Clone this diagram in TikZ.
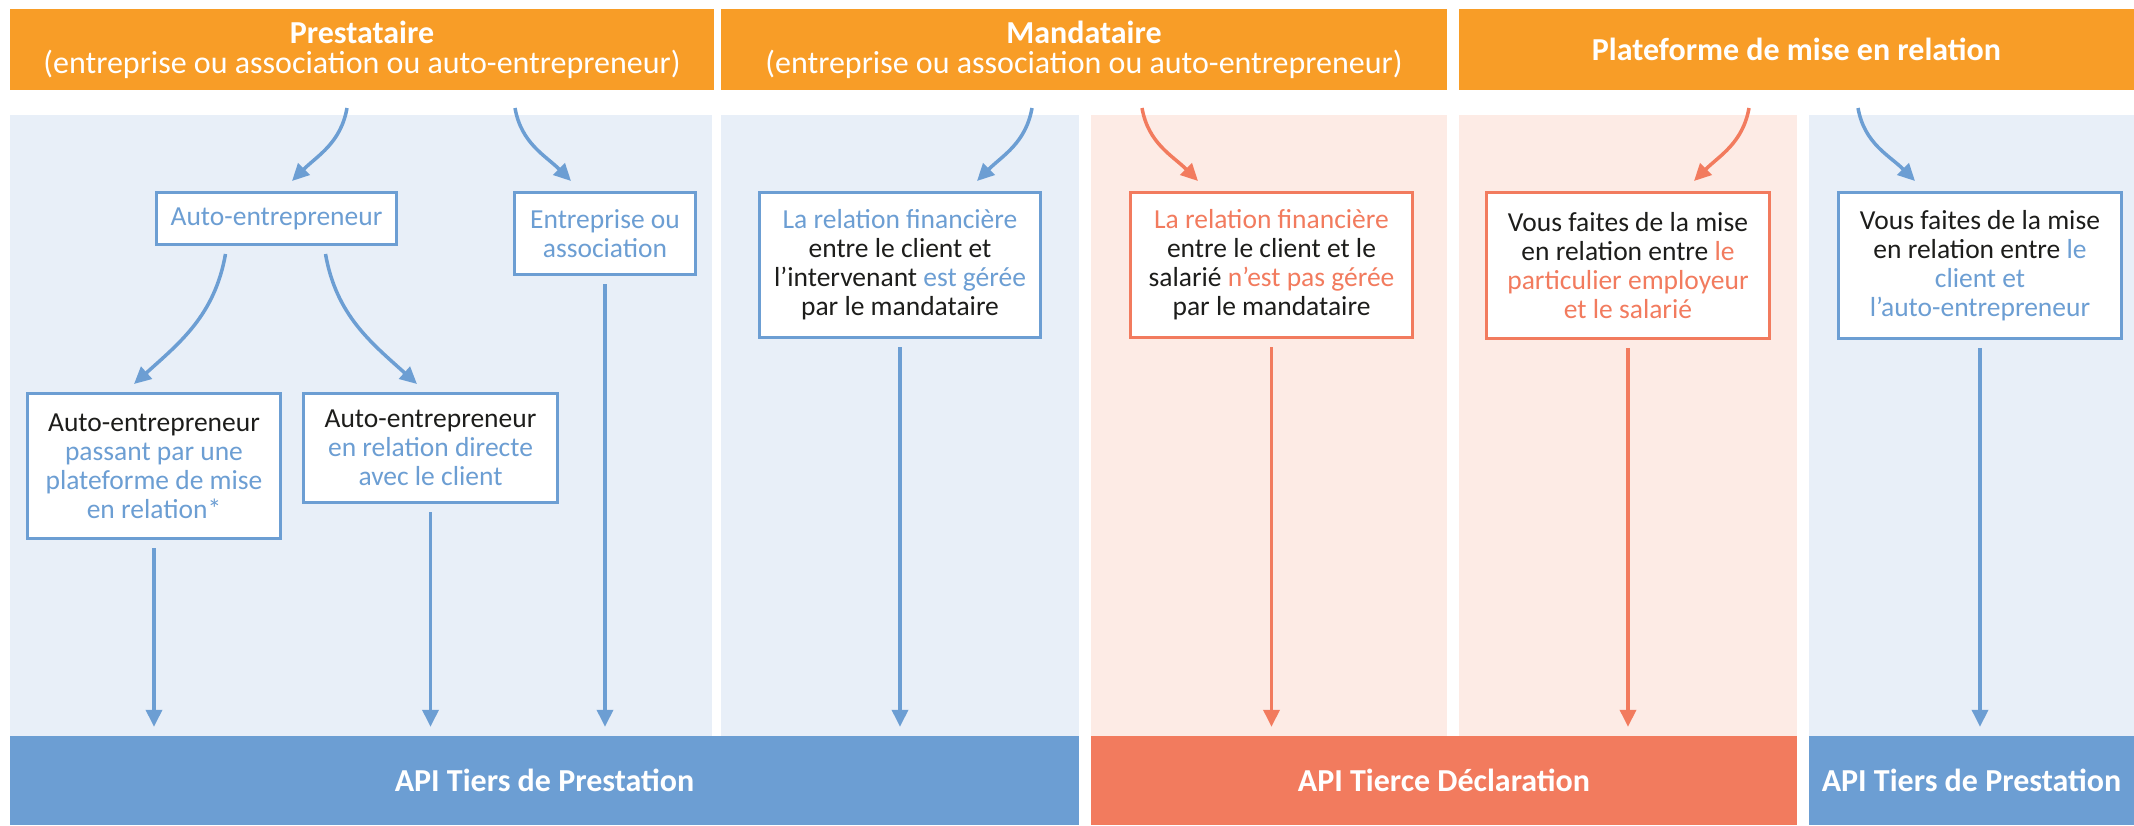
\documentclass[tikz,border=0pt]{standalone}
\usepackage{fontspec}
\setmainfont{Carlito}
\usetikzlibrary{arrows.meta}
\definecolor{corange}{RGB}{248,157,39}
\definecolor{cpanelb}{RGB}{232,239,248}
\definecolor{cpanelr}{RGB}{253,235,229}
\definecolor{cblue}{RGB}{108,158,211}
\definecolor{ccoral}{RGB}{242,123,94}
\definecolor{ctext}{RGB}{29,29,27}
\newcommand\boxfnt{\fontsize{27.5}{29}\selectfont}
\newcommand\hdrfnt{\fontsize{32}{30}\selectfont}
\newcommand\barfnt{\fontsize{32}{32}\selectfont\bfseries}
\tikzset{
  hdr/.style={fill=corange, text=white, inner sep=0pt, align=center, font=\hdrfnt, minimum height=81pt},
  apibar/.style={inner sep=0pt, text=white, font=\barfnt, minimum height=89pt},
  box/.style={draw, line width=3pt, fill=white, inner sep=0pt, align=center, font=\boxfnt, text=ctext},
  bbox/.style={box, draw=cblue},
  rbox/.style={box, draw=ccoral},
  arr/.style={line width=3.5pt, -{Triangle[length=17pt,width=16pt]}},
  barr/.style={arr, draw=cblue},
  rarr/.style={arr, draw=ccoral},
  down/.style={shorten <=8pt, shorten >=9pt},
}
\begin{document}
\begin{tikzpicture}[x=1pt,y=1pt]
\useasboundingbox (0,0) rectangle (2134,-825);
% panels
\fill[cpanelb] (10,-115) rectangle (712,-736);
\fill[cpanelb] (721,-115) rectangle (1079,-736);
\fill[cpanelr] (1091,-115) rectangle (1447,-736);
\fill[cpanelr] (1459,-115) rectangle (1797,-736);
\fill[cpanelb] (1809,-115) rectangle (2134,-736);
% headers
\node[hdr, minimum width=704pt] (h1) at (362,-49.5) {\textbf{Prestataire}\\(entreprise ou association ou auto-entrepreneur)};
\node[hdr, minimum width=726pt] (h2) at (1084,-49.5) {\textbf{Mandataire}\\(entreprise ou association ou auto-entrepreneur)};
\node[hdr, minimum width=675pt] (h3) at (1796.5,-49.5) {\textbf{Plateforme de mise en relation}};
% bars
\node[apibar, fill=cblue, minimum width=1069pt] (b1) at (544.5,-780.5) {API Tiers de Prestation};
\node[apibar, fill=ccoral, minimum width=706pt] (b2) at (1444,-780.5) {API Tierce Déclaration};
\node[apibar, fill=cblue, minimum width=325pt] (b3) at (1971.5,-780.5) {API Tiers de Prestation};
% boxes
\node[bbox, minimum width=240pt, minimum height=52pt] (ae) at (276.5,-218.5) {\textcolor{cblue}{Auto-entrepreneur}};
\node[bbox, minimum width=181pt, minimum height=82pt] (ent) at (605,-233.5) {\textcolor{cblue}{Entreprise ou}\\\textcolor{cblue}{association}};
\node[bbox, minimum width=253pt, minimum height=145pt] (ae1) at (154,-466) {Auto-entrepreneur\\\textcolor{cblue}{passant par une}\\\textcolor{cblue}{plateforme de mise}\\\textcolor{cblue}{en relation*}};
\node[bbox, minimum width=254pt, minimum height=109pt] (ae2) at (430.5,-448) {Auto-entrepreneur\\\textcolor{cblue}{en relation directe}\\\textcolor{cblue}{avec le client}};
\node[bbox, minimum width=281pt, minimum height=145pt] (m1) at (900,-265) {\textcolor{cblue}{La relation financière}\\entre le client et\\l’intervenant \textcolor{cblue}{est gérée}\\par le mandataire};
\node[rbox, minimum width=282pt, minimum height=145pt] (m2) at (1271.5,-265) {\textcolor{ccoral}{La relation financière}\\entre le client et le\\salarié \textcolor{ccoral}{n’est pas gérée}\\par le mandataire};
\node[rbox, minimum width=283pt, minimum height=146pt] (pf1) at (1628,-265.5) {Vous faites de la mise\\en relation entre \textcolor{ccoral}{le}\\\textcolor{ccoral}{particulier employeur}\\\textcolor{ccoral}{et le salarié}};
\node[bbox, minimum width=283pt, minimum height=146pt] (pf2) at (1980,-265.5) {Vous faites de la mise\\en relation entre \textcolor{cblue}{le}\\\textcolor{cblue}{client et}\\\textcolor{cblue}{l’auto-entrepreneur}};
% curved arrow ends
\coordinate (s1) at (347,-108);  \coordinate (t1) at (292,-181);
\coordinate (s2) at (515,-108);  \coordinate (t2) at (571,-181);
\coordinate (s3) at ([xshift=-51pt,yshift=-8pt]ae.south); \coordinate (t3) at (134,-384);
\coordinate (s4) at ([xshift=49pt,yshift=-8pt]ae.south);  \coordinate (t4) at (417,-384);
\coordinate (s5) at (1032,-108); \coordinate (t5) at (977,-181);
\coordinate (s6) at (1142,-108); \coordinate (t6) at (1198,-181);
\coordinate (s7) at (1749,-108); \coordinate (t7) at (1694,-181);
\coordinate (s8) at (1858,-108); \coordinate (t8) at (1915,-181);
\draw[barr] (s1) to[out=-100, in=45] (t1);
\draw[barr] (s2) to[out=-80, in=135] (t2);
\draw[barr] (s3) to[out=-100, in=42] (t3);
\draw[barr] (s4) to[out=-80, in=138] (t4);
\draw[barr] (s5) to[out=-100, in=45] (t5);
\draw[rarr] (s6) to[out=-80, in=135] (t6);
\draw[rarr] (s7) to[out=-100, in=45] (t7);
\draw[barr] (s8) to[out=-80, in=135] (t8);
% straight arrows
\draw[barr, down] (ae1.south) -- (ae1.south |- b1.north);
\draw[barr, down] (ae2.south) -- (ae2.south |- b1.north);
\draw[barr, down] (ent.south) -- (ent.south |- b1.north);
\draw[barr, down] (m1.south) -- (m1.south |- b1.north);
\draw[rarr, down] (m2.south) -- (m2.south |- b2.north);
\draw[rarr, down] (pf1.south) -- (pf1.south |- b2.north);
\draw[barr, down] (pf2.south) -- (pf2.south |- b3.north);
\end{tikzpicture}
\end{document}
